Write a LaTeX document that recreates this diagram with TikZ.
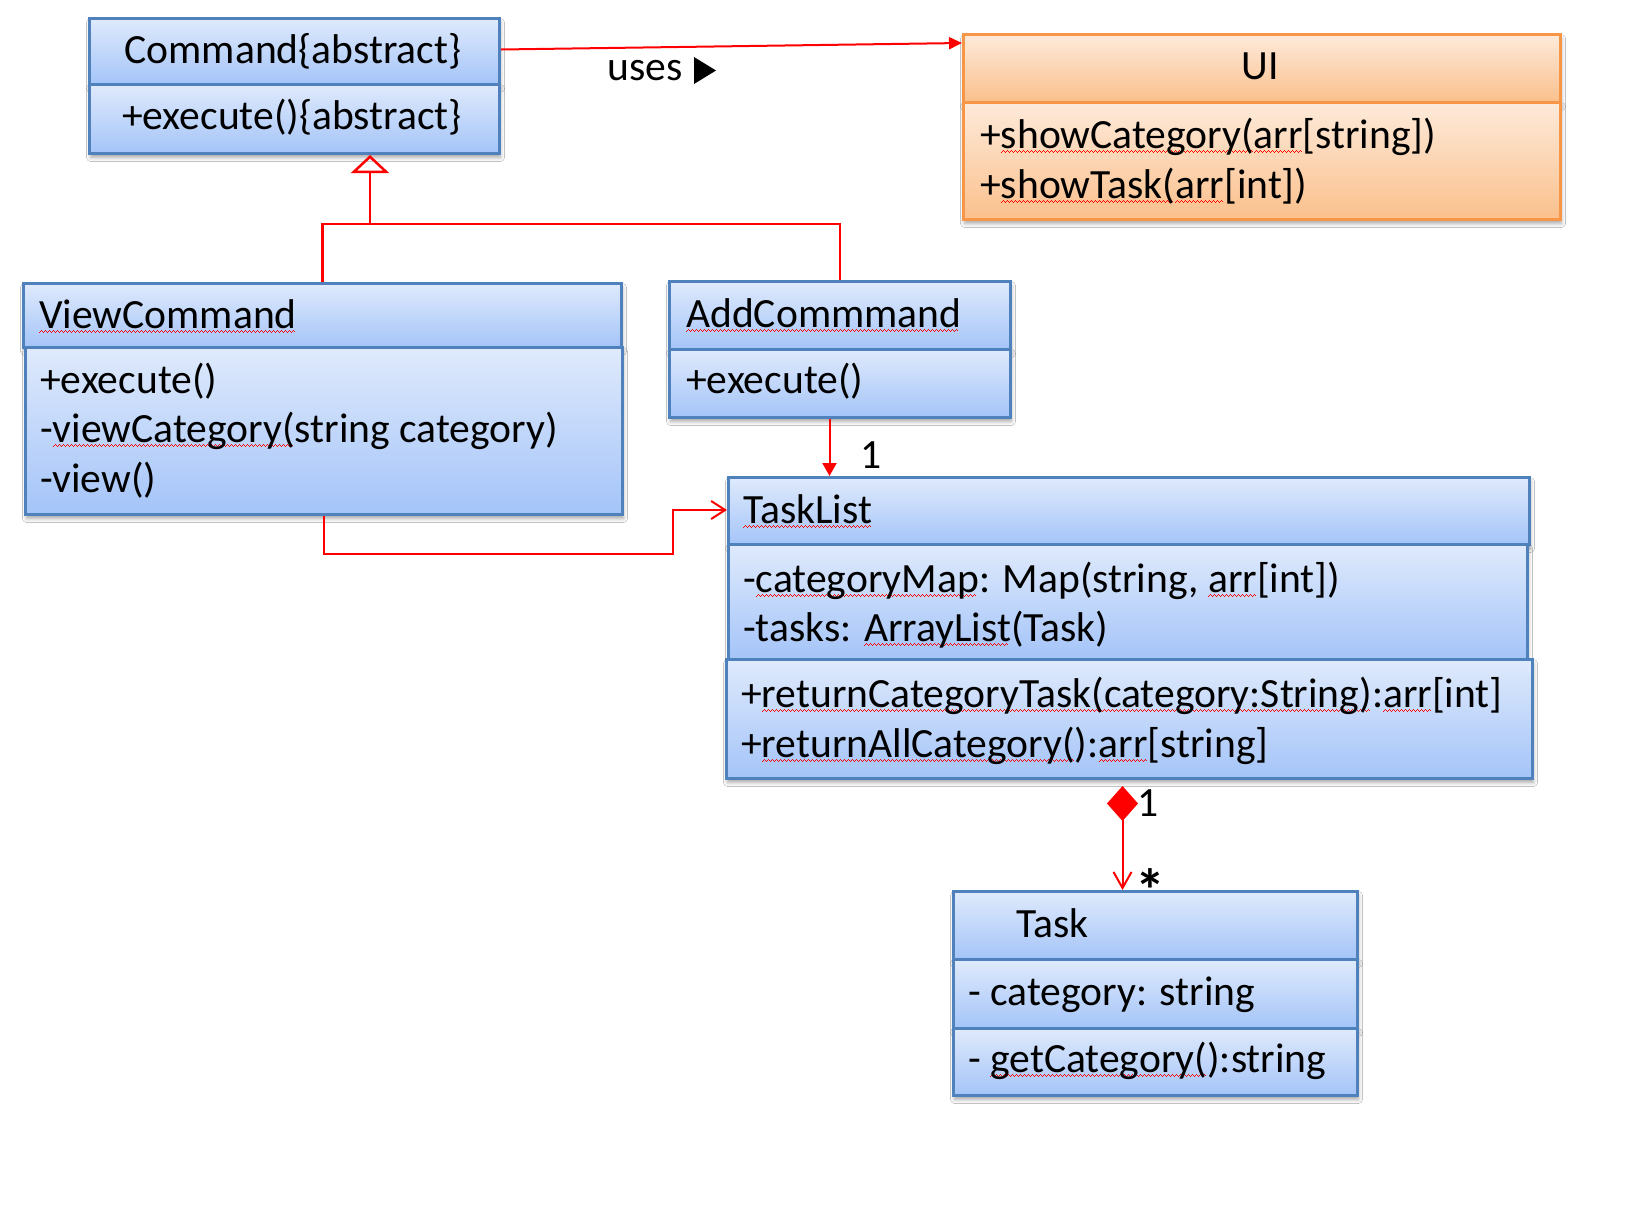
\documentclass[tikz,border=0pt]{standalone}
\usepackage{fontspec}
\setmainfont{Carlito}
\usetikzlibrary{shadows.blur,arrows.meta}
\definecolor{bTop}{RGB}{223,234,252}
\definecolor{bBot}{RGB}{164,196,248}
\definecolor{bLine}{RGB}{79,129,189}
\definecolor{oTop}{RGB}{253,234,218}
\definecolor{oBot}{RGB}{251,192,140}
\definecolor{oLine}{RGB}{247,150,70}
\newcommand\sq[1]{\setbox0=\hbox{#1}\rlap{\color{red}\leaders\hbox{\rule[-4.5pt]{1pt}{0.9pt}\rule[-3.5pt]{1pt}{0.9pt}\rule[-2.5pt]{1pt}{0.9pt}\rule[-3.5pt]{1pt}{0.9pt}}\hskip\wd0}\box0}
\begin{document}
\begin{tikzpicture}[x=1pt,y=-1pt,
  bluebox/.style={draw=bLine, line width=3pt, top color=bTop, bottom color=bBot,
    anchor=north west, inner sep=0pt,
    blur shadow={shadow xshift=1pt, shadow yshift=-4pt, shadow blur radius=4pt, shadow opacity=35}},
  orangebox/.style={bluebox, draw=oLine, top color=oTop, bottom color=oBot},
  lbl/.style={anchor=base west, inner sep=0pt, font=\fontsize{41.6}{50}\selectfont},
  ctr/.style={anchor=base, inner sep=0pt, font=\fontsize{41.6}{50}\selectfont},
  rel/.style={draw=red, line width=2pt}]
\fill[white] (0,0) rectangle (1636,1216);
\useasboundingbox (0,0) rectangle (1636,1216);

% Command
\node[bluebox, minimum width=410pt, minimum height=66pt] (cmdH) at (88,17) {};
\node[bluebox, minimum width=410pt, minimum height=69pt] (cmdB) at (88,83) {};
\node[ctr] (cmdT) at (293,63) {Command\{abstract\}};
\node[ctr] (cmdM) at (292,129) {+execute()\{abstract\}};

% UI
\node[orangebox, minimum width=597pt, minimum height=68pt] (uiH) at (962,33) {};
\node[orangebox, minimum width=597pt, minimum height=117pt] (uiB) at (962,101) {};
\node[ctr] (uiT) at (1260,79) {UI};
\node[lbl] (uiM1) at (980,148) {+\sq{showCategory(}\sq{arr}[string])};
\node[lbl] (uiM2) at (980,198) {+\sq{showTask(}\sq{arr}[int])};

% ViewCommand
\node[bluebox, minimum width=598pt, minimum height=64pt] (vcH) at (22,282) {};
\node[bluebox, minimum width=597pt, minimum height=167pt] (vcB) at (24,346) {};
\node[lbl] (vcT) at (39,328) {\sq{ViewCommand}};
\node[lbl] (vcM1) at (40,393) {+execute()};
\node[lbl] (vcM2) at (40,442) {-\sq{viewCategory(}string category)};
\node[lbl] (vcM3) at (40,492) {-view()};

% AddCommmand
\node[bluebox, minimum width=341pt, minimum height=68pt] (acH) at (668,280) {};
\node[bluebox, minimum width=341pt, minimum height=68pt] (acB) at (668,348) {};
\node[lbl] (acT) at (686,327) {\sq{AddCommmand}};
\node[lbl] (acM) at (686,393) {+execute()};

% TaskList
\node[bluebox, minimum width=801pt, minimum height=67pt] (tlH) at (727,476) {};
\node[bluebox, minimum width=799pt, minimum height=115pt] (tlA) at (727,543) {};
\node[bluebox, minimum width=806pt, minimum height=119pt] (tlO) at (725,658) {};
\node[lbl] (tlT) at (743,523) {\sq{TaskList}};
\node[lbl] (tlA1) at (743,592) {-\sq{categoryMap}: Map(string, \sq{arr}[int])};
\node[lbl] (tlA2) at (743,641) {-tasks: \sq{ArrayList}(Task)};
\node[lbl] (tlO1) at (741,707) {+\sq{returnCategoryTask(category:String)}:\sq{arr}[int]};
\node[lbl] (tlO2) at (741,757) {+\sq{returnAllCategory(}):\sq{arr}[string]};

% Task
\node[bluebox, minimum width=404pt, minimum height=68pt] (tkH) at (952,890) {};
\node[bluebox, minimum width=404pt, minimum height=69pt] (tkA) at (952,958) {};
\node[bluebox, minimum width=404pt, minimum height=67pt] (tkO) at (952,1027) {};
\node[lbl] (tkT) at (1016,937) {Task};
\node[lbl] (tkA1) at (968,1005) {- category: string};
\node[lbl] (tkO1) at (968,1072) {- \sq{getCategory(}):string};

% uses association
\draw[rel, -{Triangle[length=13pt,width=12pt]}] ([yshift=2pt]cmdH.east) -- ([yshift=-10pt]uiH.north west);
\node[lbl] (usesT) at (607,80) {uses};
\fill[black] (694,57) -- (716,70.5) -- (694,84) -- cycle;

% generalization
\coordinate (gj) at (370,224);
\draw[rel, line width=2.5pt] (vcH.north) |- (acH.north |- gj) -- (acH.north);
\draw[rel, line width=2.5pt, -{Triangle[open, length=18pt, width=38pt, line width=2.5pt]}] (gj) -- (cmdB.south -| gj);

% AddCommmand -> TaskList
\coordinate (a1) at ([xshift=-10.5pt]acB.south);
\draw[rel, -{Triangle[length=13pt,width=14pt]}] (a1) -- (a1 |- tlH.north);
\node[lbl] (m1) at (860,468) {1};

% ViewCommand -> TaskList
\coordinate (v1) at (673,554);
\draw[rel, -{Straight Barb[length=14pt,width=18pt]}] (vcB.south) |- (v1) |- ([yshift=-34pt]tlH.north west);

% composition TaskList -> Task
\coordinate (c1) at ([xshift=-7pt,yshift=-6pt]tlO.south);
\draw[rel, {Diamond[length=35pt,width=31pt]}-{Straight Barb[length=16pt,width=18pt]}] (c1) -- (c1 |- tkH.north);
\node[lbl] (m2) at (1137,816) {1};
\node[anchor=center, inner sep=0pt, font=\fontsize{60}{60}\selectfont\bfseries] (m3) at (1150,890) {*};
\end{tikzpicture}
\end{document}
